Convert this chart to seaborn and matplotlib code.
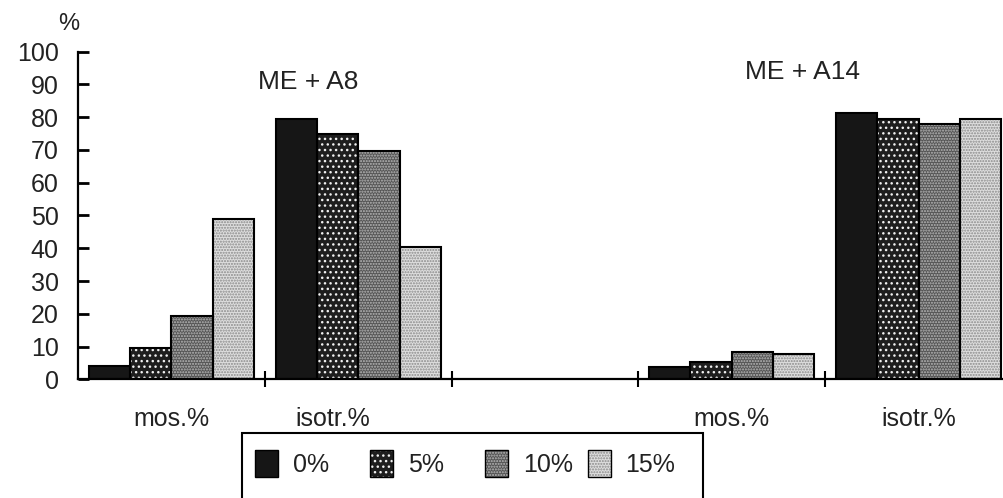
import numpy as np
import pandas as pd
import seaborn as sns
import matplotlib
matplotlib.use("Agg")
import matplotlib.pyplot as plt
import matplotlib.transforms as mtransforms
from matplotlib.patches import Rectangle

# ---- data ----
slots = ["A8 mos", "A8 isotr", "gap", "A14 mos", "A14 isotr"]
slot_labels = ["mos.%", "isotr.%", "", "mos.%", "isotr.%"]
concentrations = ["0%", "5%", "10%", "15%"]
a8_mos = [4.0, 9.5, 19.4, 48.8]
a8_isotr = [79.6, 74.8, 69.8, 40.4]
a14_mos = [3.8, 5.3, 8.4, 7.7]
a14_isotr = [81.2, 79.5, 77.9, 79.4]
group_titles = ["ME + A8", "ME + A14"]
y_ticks = [0, 10, 20, 30, 40, 50, 60, 70, 80, 90, 100]

series = {"A8 mos": a8_mos, "A8 isotr": a8_isotr,
          "A14 mos": a14_mos, "A14 isotr": a14_isotr}
rows = []
for slot, vals in series.items():
    for c, v in zip(concentrations, vals):
        rows.append({"slot": slot, "conc": c, "value": v})
df = pd.DataFrame(rows)

# ---- styles ----
face = {"0%": "#161616", "5%": "#1e1e1e", "10%": "#555555", "15%": "#dedede"}
hatchcol = {"0%": "#161616", "5%": "#f0f0f0", "10%": "#b8b8b8", "15%": "#8a8a8a"}
hatches = {"0%": "", "5%": "...", "10%": "......", "15%": "......"}

sns.set_theme(style="white")
plt.rcParams["font.family"] = ["Liberation Sans", "DejaVu Sans"]
plt.rcParams["hatch.linewidth"] = 1.0

W, H = 1004, 498
fig = plt.figure(figsize=(W / 100, H / 100), dpi=100)
ax = fig.add_axes([78 / W, 118.7 / H, 934 / W, 327.6 / H])

sns.barplot(data=df, x="slot", y="value", hue="conc", order=slots,
            hue_order=concentrations, width=0.885, gap=0, dodge=True,
            errorbar=None, legend=False, ax=ax, saturation=1)

for cont, c in zip(ax.containers, concentrations):
    for p in cont.patches:
        if np.isnan(p.get_height()):
            continue
        p.set_facecolor(face[c])
        p.set_edgecolor(hatchcol[c])
        p.set_hatch(hatches[c])
        p.set_linewidth(0)
        ax.add_patch(Rectangle((p.get_x(), p.get_y()), p.get_width(), p.get_height(),
                               fill=False, edgecolor="black", linewidth=1.5,
                               zorder=p.get_zorder() + 0.1))

ax.set_xlim(-0.5, len(slots) - 0.5)
ax.set_ylim(0, 100)
ax.set_yticks(y_ticks)
ax.set_yticklabels([str(t) for t in y_ticks], fontsize=18)
ax.set_xticks(range(len(slots)))
ax.set_xticklabels(slot_labels, fontsize=18)
ax.set_xticks([i + 0.5 for i in range(len(slots) - 1)], minor=True)
ax.tick_params(axis="x", which="both", bottom=True)
ax.tick_params(axis="x", which="major", length=0, pad=20, colors="#222222")
ax.tick_params(axis="x", which="minor", length=12, width=1.5, direction="inout", color="black")
ax.tick_params(axis="y", which="major", left=True, length=8, width=2, direction="in",
               pad=14, colors="#222222")
ax.tick_params(axis="y", which="major", color="black")
ax.set_xlabel("")
ax.set_ylabel("")
for s in ["top", "right"]:
    ax.spines[s].set_visible(False)
for s in ["left", "bottom"]:
    ax.spines[s].set_color("black")
    ax.spines[s].set_linewidth(1.6)
ax.spines["bottom"].set_clip_on(False)

# the first "isotr.%" label sits somewhat left of its slot centre
lbl = ax.get_xticklabels()[1]
lbl.set_transform(lbl.get_transform() + mtransforms.ScaledTranslation(-25 / 100, 0, fig.dpi_scale_trans))

# group titles
ax.text(0.73, 90.7, group_titles[0], ha="center", va="center", fontsize=19, color="#222222")
ax.text(3.38, 93.8, group_titles[1], ha="center", va="center", fontsize=19, color="#222222")

# y unit label
fig.text(69 / W, 1 - 24 / H, "%", ha="center", va="center", fontsize=17, color="#222222")

# legend (drawn by hand to follow the original spacing)
handle_x = [255, 370, 485, 588]
text_x = [293, 408, 523, 625]
for c, hx, tx in zip(concentrations, handle_x, text_x):
    fig.add_artist(Rectangle((hx / W, 1 - 477 / H), 23 / W, 27 / H, transform=fig.transFigure,
                             facecolor=face[c], edgecolor=hatchcol[c], hatch=hatches[c],
                             linewidth=0))
    fig.add_artist(Rectangle((hx / W, 1 - 477 / H), 23 / W, 27 / H, transform=fig.transFigure,
                             fill=False, edgecolor="black", linewidth=1.0))
    fig.text(tx / W, 1 - 465 / H, c, ha="left", va="center", fontsize=18, color="#222222")
fig.add_artist(Rectangle((242 / W, -0.1), (703 - 242) / W, 0.1 + (498 - 433) / H,
                         transform=fig.transFigure, fill=False, edgecolor="black",
                         linewidth=1.5, clip_on=False))

fig.savefig("out.png", dpi=100)
